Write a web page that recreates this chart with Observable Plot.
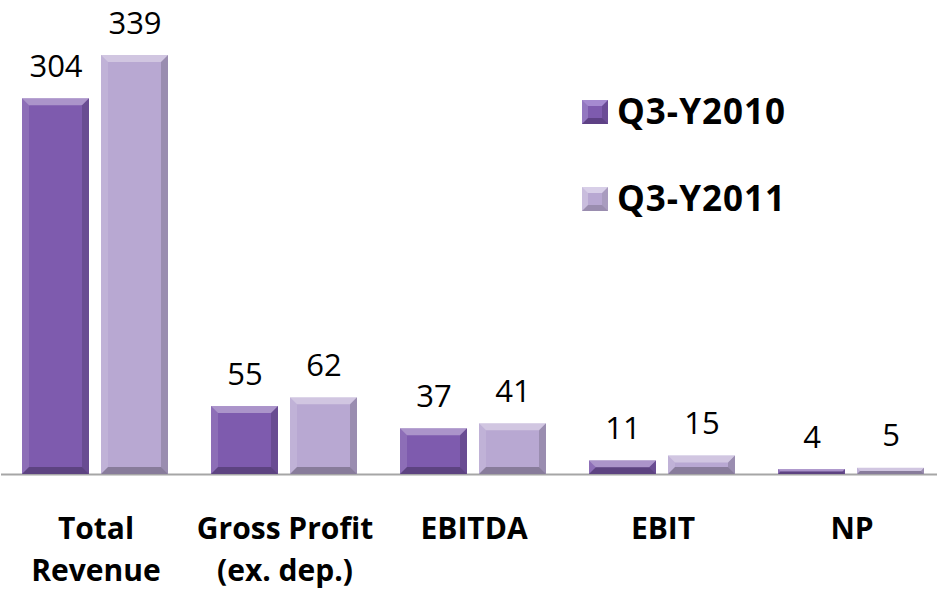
<!DOCTYPE html>
<html>
<head>
<meta charset="utf-8">
<script src="https://cdn.jsdelivr.net/npm/d3@7"></script>
<script src="https://cdn.jsdelivr.net/npm/@observablehq/plot@0.6"></script>
<style>
  body { margin: 0; background: #fff; overflow: hidden; }
  #wrap { position: relative; width: 937px; height: 589px; }
  .legend { position: absolute; left: 582px; font-family: "Open Sans", Lato, sans-serif; }
  .item { position: absolute; left: 0; white-space: nowrap; }
  .sw { position: absolute; left: 0; top: 0; width: 14px; height: 12px; border-style: solid; border-width: 6px; }
  .lab { position: absolute; left: 35px; top: -13px; font-weight: 700; font-size: 35px; letter-spacing: 1px; color: #000; line-height: 48px; }
</style>
</head>
<body>
<div id="wrap"></div>
<script>
const categories = ["Total\nRevenue", "Gross Profit\n(ex. dep.)", "EBITDA", "EBIT", "NP"];
const series = ["Q3-Y2010", "Q3-Y2011"];
const values2010 = [304, 55, 37, 11, 4];
const values2011 = [339, 62, 41, 15, 5];
const colors = ["#7E5BAE", "#B8A8D2"];

const rows = [];
categories.forEach((c, i) => {
  rows.push({category: c, series: series[0], value: values2010[i]});
  rows.push({category: c, series: series[1], value: values2011[i]});
});

const font = "'Open Sans', Lato, sans-serif";

const chart = Plot.plot({
  width: 937,
  height: 589,
  marginLeft: 0,
  marginRight: 0,
  marginTop: 0,
  marginBottom: 115,
  style: {fontFamily: font, background: "#fff", overflow: "visible"},
  fx: {domain: categories, range: [0, 946.5], padding: 0, axis: null},
  x: {domain: series, paddingInner: 0.15, paddingOuter: 0.258, axis: null},
  y: {domain: [0, 383.5], axis: null},
  color: {domain: series, range: colors},
  marks: [
    Plot.ruleY([0], {stroke: "#A6A6A6", strokeWidth: 2}),
    Plot.barY(rows, {fx: "category", x: "series", y: "value", fill: "series"}),
    Plot.text(rows, {fx: "category", x: "series", y: "value", text: d => String(d.value),
      dy: -22, lineAnchor: "bottom", fontSize: 31, fill: "#000"}),
    Plot.text(categories, {fx: d => d, text: d => d, frameAnchor: "bottom", lineAnchor: "top",
      dy: 35, fontSize: 30, fontWeight: "bold", lineHeight: 1.4, fill: "#000"})
  ]
});

// bevel decoration derived from the rendered bars
const rects = chart.querySelectorAll('g[aria-label="bar"] rect');
const ns = "http://www.w3.org/2000/svg";
rects.forEach(r => {
  const x = +r.getAttribute("x"), y = +r.getAttribute("y");
  const w = +r.getAttribute("width"), h = +r.getAttribute("height");
  const b = Math.min(7, h / 2, w / 2);
  const parts = [
    [[x, y], [x + w, y], [x + w - b, y + b], [x + b, y + b], "#fff", 0.35],
    [[x, y], [x + b, y + b], [x + b, y + h - b], [x, y + h], "#fff", 0.12],
    [[x + w, y], [x + w, y + h], [x + w - b, y + h - b], [x + w - b, y + b], "#000", 0.16],
    [[x, y + h], [x + b, y + h - b], [x + w - b, y + h - b], [x + w, y + h], "#000", 0.26]
  ];
  parts.forEach(p => {
    const poly = document.createElementNS(ns, "polygon");
    poly.setAttribute("points", p.slice(0, 4).map(q => q.join(",")).join(" "));
    poly.setAttribute("fill", p[4]);
    poly.setAttribute("fill-opacity", p[5]);
    r.parentNode.appendChild(poly);
  });
});

const wrap = document.getElementById("wrap");
wrap.appendChild(chart);

// legend
const legend = document.createElement("div");
legend.className = "legend";
legend.style.top = "100px";
const light = ["#A58AD0", "#D8CFE8"], side = ["#9377C0", "#C9BDDD"], dark = ["#5E4185", "#9A8DAF"], dark2 = ["#6B4C96", "#A99CBF"];
series.forEach((s, i) => {
  const item = document.createElement("div");
  item.className = "item";
  item.style.top = (i * 87) + "px";
  const sw = document.createElement("div");
  sw.className = "sw";
  sw.style.background = colors[i];
  sw.style.borderColor = `${light[i]} ${dark2[i]} ${dark[i]} ${side[i]}`;
  const lab = document.createElement("div");
  lab.className = "lab";
  lab.textContent = s;
  item.appendChild(sw);
  item.appendChild(lab);
  legend.appendChild(item);
});
wrap.appendChild(legend);
</script>
</body>
</html>
